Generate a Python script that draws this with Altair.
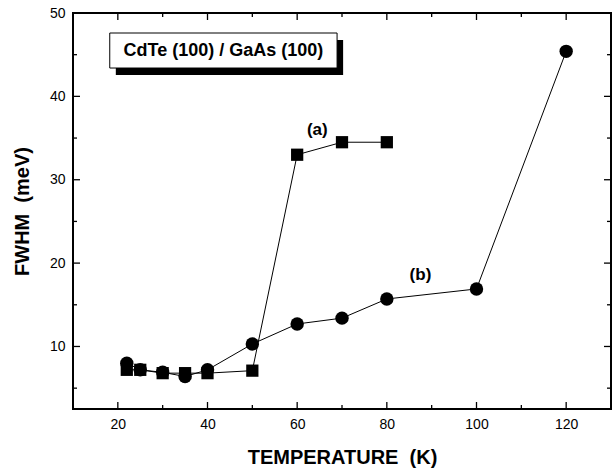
import altair as alt
import pandas as pd

# Series (a): squares
temp_a = [22, 25, 30, 35, 40, 50, 60, 70, 80]
fwhm_a = [7.2, 7.2, 6.8, 6.8, 6.8, 7.1, 33.0, 34.5, 34.5]
# Series (b): circles
temp_b = [22, 25, 30, 35, 40, 50, 60, 70, 80, 100, 120]
fwhm_b = [8.0, 7.2, 6.9, 6.4, 7.2, 10.3, 12.7, 13.4, 15.7, 16.9, 45.4]

x_major = [20, 40, 60, 80, 100, 120]
x_minor = [30, 50, 70, 90, 110]
y_major = [10, 20, 30, 40, 50]
y_minor = [5, 15, 25, 35, 45]

W, H = 538, 396
FONT = "Liberation Sans"
MAJ, MIN = 7, 4
NB = "\u00a0"

xs = alt.Scale(domain=[10, 130], nice=False, zero=False)
ys = alt.Scale(domain=[2.5, 50], nice=False, zero=False)

x_axis = alt.Axis(values=x_major, ticks=False, domain=False, grid=False,
                  labelFontSize=14, labelPadding=8, labelFont=FONT, labelColor="black",
                  labelFlush=False, labelOverlap=False,
                  title="TEMPERATURE" + NB + NB + "(K)", titleFontSize=20,
                  titleFontWeight="bold",
                  titleFont=FONT, titleColor="black", titlePadding=16)
y_axis = alt.Axis(values=y_major, ticks=False, domain=False, grid=False,
                  labelFontSize=14, labelPadding=8, labelFont=FONT, labelColor="black",
                  labelFlush=False, labelOverlap=False,
                  title="FWHM" + NB + NB + "(meV)", titleFontSize=20,
                  titleFontWeight="bold",
                  titleFont=FONT, titleColor="black", titlePadding=17)


def X(field="x"):
    return alt.X(f"{field}:Q", scale=xs, axis=x_axis)


def Y(field="y"):
    return alt.Y(f"{field}:Q", scale=ys, axis=y_axis)


df_a = pd.DataFrame({"x": temp_a, "y": fwhm_a})
df_b = pd.DataFrame({"x": temp_b, "y": fwhm_b})

line_a = alt.Chart(df_a).mark_line(color="black", strokeWidth=1).encode(x=X(), y=Y())
line_b = alt.Chart(df_b).mark_line(color="black", strokeWidth=1).encode(x=X(), y=Y())
pts_a = alt.Chart(df_a).mark_point(shape="square", filled=True, color="black",
                                   opacity=1, size=150).encode(x=X(), y=Y())
pts_b = alt.Chart(df_b).mark_point(shape="circle", filled=True, color="black",
                                   opacity=1, size=180).encode(x=X(), y=Y())


# inward ticks on all four sides
def xticks(vals, length):
    d = pd.DataFrame({"x": vals})
    bot = alt.Chart(d).mark_rule(color="black", strokeWidth=1.3).encode(
        x=X(), y=alt.value(H), y2=alt.value(H - length))
    top = alt.Chart(d).mark_rule(color="black", strokeWidth=1.3).encode(
        x=X(), y=alt.value(0), y2=alt.value(length))
    return [bot, top]


def yticks(vals, length):
    d = pd.DataFrame({"y": vals})
    left = alt.Chart(d).mark_rule(color="black", strokeWidth=1.3).encode(
        y=Y(), x=alt.value(0), x2=alt.value(length))
    right = alt.Chart(d).mark_rule(color="black", strokeWidth=1.3).encode(
        y=Y(), x=alt.value(W), x2=alt.value(W - length))
    return [left, right]


tick_layers = (xticks(x_major, MAJ) + xticks(x_minor, MIN)
               + yticks([v for v in y_major if v < 50], MAJ) + yticks(y_minor, MIN))

# title box with drop shadow (in data units)
bx0, bx1, by0, by1 = 18.2, 68.9, 47.6, 43.4
sdx, sdy = 1.35, 0.85
box_df = pd.DataFrame({"x": [bx0], "x2": [bx1], "y": [by0], "y2": [by1]})
shadow_df = pd.DataFrame({"x": [bx0 + sdx], "x2": [bx1 + sdx],
                          "y": [by0 - sdy], "y2": [by1 - sdy]})
shadow = alt.Chart(shadow_df).mark_rect(color="black").encode(
    x=X(), x2="x2", y=Y(), y2="y2")
box = alt.Chart(box_df).mark_rect(fill="white", stroke="black", strokeWidth=1).encode(
    x=X(), x2="x2", y=Y(), y2="y2")
box_text_df = pd.DataFrame({"x": [(bx0 + bx1) / 2], "y": [45.45],
                            "t": ["CdTe (100) / GaAs (100)"]})
box_text = alt.Chart(box_text_df).mark_text(font=FONT, fontSize=18, fontWeight="bold",
                                            color="black", align="center",
                                            baseline="middle").encode(
    x=X(), y=Y(), text="t:N")

lab_df = pd.DataFrame({"x": [64.5, 87.5], "y": [35.95, 18.55], "t": ["(a)", "(b)"]})
labels = alt.Chart(lab_df).mark_text(font=FONT, fontSize=17, fontWeight="bold",
                                     color="black", align="center",
                                     baseline="middle").encode(
    x=X(), y=Y(), text="t:N")

chart = alt.layer(
    line_a, line_b, pts_a, pts_b, *tick_layers, shadow, box, box_text, labels
).properties(
    width=W, height=H,
    autosize=alt.AutoSizeParams(type="none"),
    padding={"left": 73, "top": 13, "right": 5, "bottom": 65},
    background="white",
).configure_view(stroke="black", strokeWidth=2)

chart.save("out.html", embed_options={"renderer": "svg", "actions": False})
